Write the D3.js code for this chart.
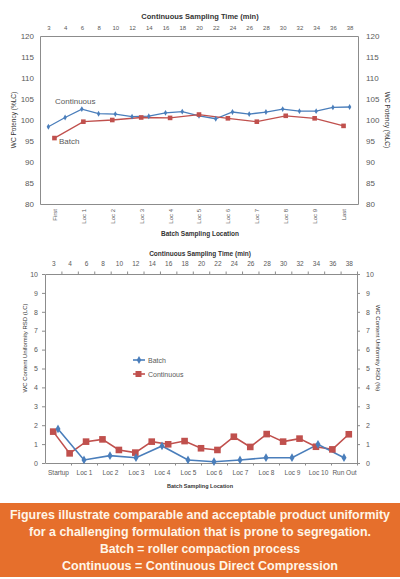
<!DOCTYPE html>
<html>
<head>
<meta charset="utf-8">
<script src="https://cdn.jsdelivr.net/npm/d3@7"></script>
<style>
  body { margin: 0; background: #fff; }
  svg { display: block; }
  text { font-family: "Liberation Sans", Arial, sans-serif; }
</style>
</head>
<body>
<svg id="chart" width="400" height="579"></svg>
<script>
// sampling time (min) shared by both charts (top axis)
const times = ["3","4","6","8","10","12","14","16","18","20","22","24","26","28","30","32","34","36","38"];

// chart 1 - potency
const potLocations = ["First","Loc 1","Loc 2","Loc 3","Loc 4","Loc 5","Loc 6","Loc 7","Loc 8","Loc 9","Last"];
const potBatch = [95.7, 99.6, 100.0, 100.6, 100.5, 101.3, 100.4, 99.6, 101.0, 100.4, 98.6];
const potContinuous = [98.4, 100.6, 102.6, 101.5, 101.4, 100.8, 100.9, 101.7, 102.0, 101.0, 100.3, 101.9, 101.4, 101.9, 102.6, 102.1, 102.1, 103.0, 103.1];
const potTicks = [80, 85, 90, 95, 100, 105, 110, 115, 120];

// chart 2 - content uniformity RSD
const rsdLocations = ["Startup","Loc 1","Loc 2","Loc 3","Loc 4","Loc 5","Loc 6","Loc 7","Loc 8","Loc 9","Loc 10","Run Out"];
const rsdBatch = [1.8, 0.16, 0.39, 0.28, 0.9, 0.16, 0.07, 0.16, 0.28, 0.28, 0.99, 0.28];
const rsdContinuous = [1.66, 0.51, 1.13, 1.25, 0.69, 0.55, 1.13, 0.99, 1.16, 0.78, 0.69, 1.39, 0.85, 1.53, 1.13, 1.29, 0.86, 0.72, 1.52];
const rsdTicks = [0,1,2,3,4,5,6,7,8,9,10];

const captionLines = [
  "Figures illustrate comparable and acceptable product uniformity",
  "for a challenging formulation that is prone to segregation.",
  "Batch = roller compaction process",
  "Continuous = Continuous Direct Compression"
];

const blue = "#4a7ebb";
const red = "#c0504d";
const frame = "#8c8c8c";
const labelCol = "#595959";

const svg = d3.select("#chart");

function styleAxis(g){
  g.select(".domain").attr("stroke", frame);
  g.selectAll(".tick line").attr("stroke", frame);
  g.selectAll(".tick text").attr("fill", labelCol).attr("font-family", "Liberation Sans, Arial, sans-serif");
}

// ---------- chart 1 ----------
{
  const L = 40, R = 358, T = 36, B = 204;
  let y = d3.scaleLinear().domain([80,120]).range([B,T]);
  let xTime = d3.scalePoint().domain(times).range([L,R]).padding(0.5);
  let xLoc = d3.scalePoint().domain(potLocations).range([L,R]).padding(0.5);

  svg.append("g").attr("transform",`translate(${L},0)`)
     .call(d3.axisLeft(y).tickValues(potTicks).tickSize(0).tickPadding(6))
     .call(styleAxis).selectAll("text").attr("font-size", 8);
  svg.append("g").attr("transform",`translate(${R},0)`)
     .call(d3.axisRight(y).tickValues(potTicks).tickSize(0).tickPadding(8))
     .call(styleAxis).selectAll("text").attr("font-size", 8);
  svg.append("g").attr("transform",`translate(0,${T})`)
     .call(d3.axisTop(xTime).tickSize(0).tickPadding(6).tickSizeOuter(0))
     .call(styleAxis).selectAll("text").attr("font-size", 6);
  let bx = svg.append("g").attr("transform",`translate(0,${B})`)
     .call(d3.axisBottom(xLoc).tickSize(0).tickSizeOuter(0))
     .call(styleAxis);
  bx.selectAll("text")
    .attr("font-size", 6)
    .attr("text-anchor","end")
    .attr("transform","rotate(-90)")
    .attr("x",-5).attr("y",0).attr("dy","0.32em");

  let lineB = d3.line().x((d,i)=>xLoc(potLocations[i])).y(d=>y(d));
  let lineC = d3.line().x((d,i)=>xTime(times[i])).y(d=>y(d));

  svg.append("path").datum(potContinuous).attr("fill","none").attr("stroke",blue).attr("stroke-width",1.3).attr("d",lineC);
  svg.append("path").datum(potBatch).attr("fill","none").attr("stroke",red).attr("stroke-width",1.3).attr("d",lineB);

  svg.append("g").selectAll("path").data(potContinuous).join("path")
     .attr("transform",(d,i)=>`translate(${xTime(times[i])},${y(d)})`)
     .attr("d", d3.symbol(d3.symbolDiamond, 10))
     .attr("fill", blue);
  svg.append("g").selectAll("rect").data(potBatch).join("rect")
     .attr("x",(d,i)=>xLoc(potLocations[i])-2.3).attr("y",d=>y(d)-2.3)
     .attr("width",4.6).attr("height",4.6).attr("fill",red);

  svg.append("text").attr("x",55).attr("y",104).attr("font-size",8).attr("fill",labelCol).text("Continuous");
  svg.append("text").attr("x",59).attr("y",144).attr("font-size",8).attr("fill",labelCol).text("Batch");

  svg.append("text").attr("x",200).attr("y",19).attr("text-anchor","middle")
     .attr("font-size",7.5).attr("font-weight","bold").attr("fill","#333").text("Continuous Sampling Time (min)");
  svg.append("text").attr("x",200).attr("y",236).attr("text-anchor","middle")
     .attr("font-size",6.5).attr("font-weight","bold").attr("fill","#333").text("Batch Sampling Location");
  svg.append("text").attr("transform",`translate(16,${(T+B)/2}) rotate(-90)`).attr("text-anchor","middle")
     .attr("font-size",6.5).attr("fill","#333").text("WC Potency (%LC)");
  svg.append("text").attr("transform",`translate(385,${(T+B)/2}) rotate(90)`).attr("text-anchor","middle")
     .attr("font-size",6.5).attr("fill","#333").text("WC Potency (%LC)");
}

// ---------- chart 2 ----------
{
  const L = 45, R = 357, T = 274, B = 463;
  let y = d3.scaleLinear().domain([0,10]).range([B,T]);
  let xTime = d3.scalePoint().domain(times).range([L,R]).padding(0.5);
  let xLoc = d3.scalePoint().domain(rsdLocations).range([L,R]).padding(0.5);
  let timeStep = xTime.step(), locStep = xLoc.step();

  svg.append("g").attr("transform",`translate(${L},0)`)
     .call(d3.axisLeft(y).tickValues(rsdTicks).tickSize(3).tickPadding(4).tickSizeOuter(0))
     .call(styleAxis).selectAll("text").attr("font-size", 7);
  svg.append("g").attr("transform",`translate(${R},0)`)
     .call(d3.axisRight(y).tickValues(rsdTicks).tickSize(3).tickPadding(6).tickSizeOuter(0))
     .call(styleAxis).selectAll("text").attr("font-size", 7);

  let tx = svg.append("g").attr("transform",`translate(0,${T})`)
     .call(d3.axisTop(xTime).tickSize(0).tickPadding(8).tickSizeOuter(0))
     .call(styleAxis);
  tx.selectAll("text").attr("font-size", 6.5);
  tx.selectAll(".tick").append("line").attr("x1",timeStep/2).attr("x2",timeStep/2).attr("y1",0).attr("y2",-2.5).attr("stroke",frame);

  let bx = svg.append("g").attr("transform",`translate(0,${B})`)
     .call(d3.axisBottom(xLoc).tickSize(0).tickPadding(7).tickSizeOuter(0))
     .call(styleAxis);
  bx.selectAll("text").attr("font-size", 6.5);
  bx.selectAll(".tick").append("line").attr("x1",locStep/2).attr("x2",locStep/2).attr("y1",0).attr("y2",2.5).attr("stroke",frame);

  let lineB = d3.line().x((d,i)=>xLoc(rsdLocations[i])).y(d=>y(d));
  let lineC = d3.line().x((d,i)=>xTime(times[i])).y(d=>y(d));

  svg.append("path").datum(rsdContinuous).attr("fill","none").attr("stroke",red).attr("stroke-width",1.6).attr("d",lineC);
  svg.append("path").datum(rsdBatch).attr("fill","none").attr("stroke",blue).attr("stroke-width",1.6).attr("d",lineB);

  svg.append("g").selectAll("rect").data(rsdContinuous).join("rect")
     .attr("x",(d,i)=>xTime(times[i])-3.3).attr("y",d=>y(d)-3.3)
     .attr("width",6.6).attr("height",6.6).attr("fill",red);
  svg.append("g").selectAll("path").data(rsdBatch).join("path")
     .attr("transform",(d,i)=>`translate(${xLoc(rsdLocations[i])},${y(d)})`)
     .attr("d", d3.symbol(d3.symbolDiamond, 22))
     .attr("fill", blue);

  // legend
  let lg = svg.append("g");
  lg.append("line").attr("x1",133).attr("x2",145).attr("y1",360).attr("y2",360).attr("stroke",blue).attr("stroke-width",1.6);
  lg.append("path").attr("transform","translate(139,360)").attr("d",d3.symbol(d3.symbolDiamond,18)).attr("fill",blue);
  lg.append("text").attr("x",148).attr("y",362.5).attr("font-size",7).attr("fill",labelCol).text("Batch");
  lg.append("line").attr("x1",133).attr("x2",145).attr("y1",374).attr("y2",374).attr("stroke",red).attr("stroke-width",1.6);
  lg.append("rect").attr("x",135.5).attr("y",371).attr("width",6).attr("height",6).attr("fill",red);
  lg.append("text").attr("x",148).attr("y",376.5).attr("font-size",7).attr("fill",labelCol).text("Continuous");

  svg.append("text").attr("x",200).attr("y",256).attr("text-anchor","middle")
     .attr("font-size",6.5).attr("font-weight","bold").attr("fill","#333").text("Continuous Sampling Time (min)");
  svg.append("text").attr("x",200).attr("y",488).attr("text-anchor","middle")
     .attr("font-size",5.5).attr("font-weight","bold").attr("fill","#333").text("Batch Sampling Location");
  svg.append("text").attr("transform","translate(27,348) rotate(-90)").attr("text-anchor","middle")
     .attr("font-size",6).attr("fill","#333").text("WC Content Uniformity RSD (LC)");
  svg.append("text").attr("transform","translate(376,348) rotate(90)").attr("text-anchor","middle")
     .attr("font-size",6).attr("fill","#333").text("WC Content Uniformity RSD (%)");
}

// ---------- caption ----------
{
  svg.append("rect").attr("x",0).attr("y",503).attr("width",400).attr("height",74).attr("fill","#e66f2c");
  let widths = [380, 342, 200, 276];
  svg.append("g").selectAll("text").data(captionLines).join("text")
     .attr("x",200).attr("y",(d,i)=>519 + i*17)
     .attr("text-anchor","middle")
     .attr("font-family","Open Sans, sans-serif")
     .attr("font-weight","bold")
     .attr("font-size",12.5)
     .attr("fill","#fff6e8")
     .attr("textLength",(d,i)=>widths[i])
     .attr("lengthAdjust","spacingAndGlyphs")
     .text(d=>d);
}
</script>
</body>
</html>
